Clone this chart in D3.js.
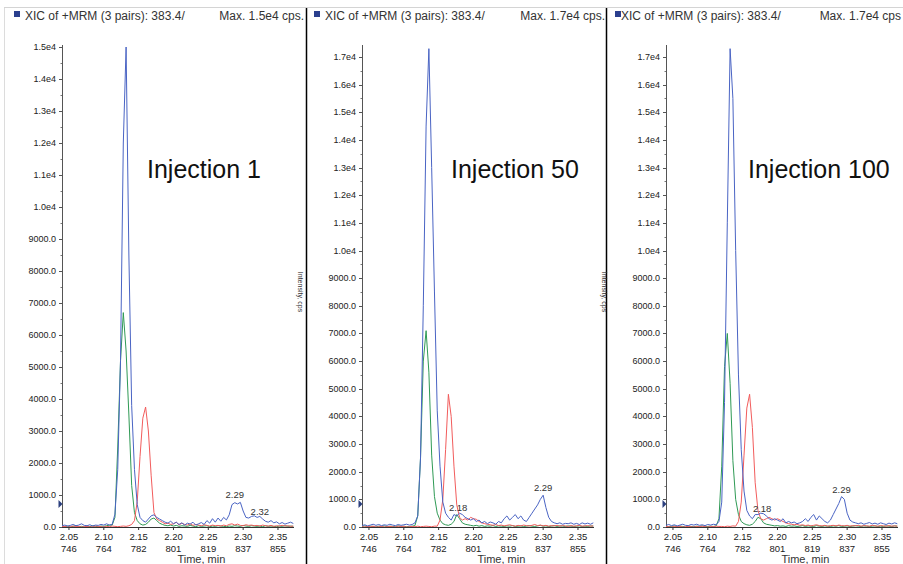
<!DOCTYPE html>
<html>
<head>
<meta charset="utf-8">
<script src="https://cdn.jsdelivr.net/npm/d3@7"></script>
<style>
  body { margin: 0; background: #fff; }
  svg { display: block; font-family: "Liberation Sans", Arial, sans-serif; }
</style>
</head>
<body>
<svg id="chart" width="903" height="564"></svg>
<script>
// DATA

// retention time grid, min (shared by all traces)
const times = [
  2.040, 2.044, 2.048, 2.052, 2.056, 2.060, 2.064, 2.068, 2.072, 2.076,
  2.080, 2.084, 2.088, 2.092, 2.096, 2.100, 2.104, 2.108, 2.112, 2.116,
  2.120, 2.124, 2.128, 2.132, 2.136, 2.140, 2.144, 2.148, 2.152, 2.156,
  2.160, 2.164, 2.168, 2.172, 2.176, 2.180, 2.184, 2.188, 2.192, 2.196,
  2.200, 2.204, 2.208, 2.212, 2.216, 2.220, 2.224, 2.228, 2.232, 2.236,
  2.240, 2.244, 2.248, 2.252, 2.256, 2.260, 2.264, 2.268, 2.272, 2.276,
  2.280, 2.284, 2.288, 2.292, 2.296, 2.300, 2.304, 2.308, 2.312, 2.316,
  2.320, 2.324, 2.328, 2.332, 2.336, 2.340, 2.344, 2.348, 2.352, 2.356,
  2.360, 2.364, 2.368, 2.372
];

// Injection 1 (cps)
const blue1 = [
  40, 60, 30, 50, 80, 40, 60, 100, 50, 40,
  70, 30, 60, 50, 80, 60, 100, 60, 80, 400,
  1800, 5200, 12000, 15000, 8500, 3800, 1800, 700, 300, 200,
  150, 250, 350, 380, 300, 250, 200, 150, 120, 180,
  100, 150, 80, 130, 60, 120, 90, 150, 60, 100,
  140, 80, 200, 120, 260, 150, 280, 180, 300, 220,
  380, 700, 760, 720, 770, 500, 300, 280, 330, 350,
  300, 330, 250, 180, 150, 200, 130, 160, 100, 140,
  90, 120, 150, 110
];
const green1 = [
  20, 10, 30, 0, 20, 40, 10, 20, 0, 30,
  10, 40, 20, 10, 30, 20, 40, 60, 60, 300,
  2500, 5200, 6700, 5500, 3500, 1300, 450, 200, 100, 60,
  80, 150, 250, 280, 200, 120, 80, 50, 40, 60,
  30, 50, 20, 40, 30, 20, 50, 30, 10, 40,
  20, 30, 40, 10, 30, 20, 40, 30, 20, 10,
  30, 20, 40, 30, 20, 50, 30, 20, 40, 30,
  20, 30, 10, 40, 20, 30, 20, 10, 30, 20,
  40, 20, 30, 20
];
const red1 = [
  10, 20, 0, 10, 30, 10, 20, 0, 10, 20,
  0, 10, 30, 20, 10, 0, 20, 10, 30, 20,
  10, 20, 30, 20, 40, 80, 200, 800, 2200, 3400,
  3750, 3000, 1600, 450, 250, 200, 150, 100, 120, 80,
  100, 150, 60, 120, 80, 60, 100, 50, 80, 60,
  40, 70, 50, 30, 60, 40, 50, 30, 60, 40,
  80, 100, 60, 90, 50, 40, 70, 50, 60, 40,
  50, 30, 60, 40, 30, 50, 20, 40, 30, 50,
  30, 40, 20, 30
];

// Injection 50 (cps)
const blue2 = [
  50, 80, 40, 70, 100, 60, 90, 50, 80, 60,
  100, 70, 50, 90, 60, 80, 100, 70, 90, 150,
  400, 2500, 8000, 14500, 17300, 13000, 8500, 4200, 2200, 900,
  500, 350, 250, 450, 400, 500, 450, 350, 300, 250,
  300, 200, 250, 150, 200, 120, 180, 150, 100, 200,
  150, 300, 400, 250, 350, 450, 300, 400, 250, 200,
  350, 500, 650, 800, 1000, 1150, 700, 350, 200, 150,
  120, 150, 100, 130, 120, 150, 100, 130, 90, 150,
  110, 140, 100, 150
];
const green2 = [
  20, 40, 10, 30, 20, 0, 30, 20, 40, 10,
  30, 20, 10, 40, 20, 30, 10, 20, 30, 50,
  400, 2500, 6000, 7100, 5600, 2600, 1100, 500, 250, 120,
  80, 60, 100, 200, 450, 300, 150, 100, 80, 60,
  40, 60, 30, 50, 20, 40, 30, 50, 20, 40,
  30, 20, 40, 30, 50, 20, 30, 40, 20, 30,
  50, 30, 20, 40, 60, 30, 40, 20, 30, 50,
  20, 40, 30, 20, 40, 30, 20, 30, 40, 20,
  30, 20, 40, 30
];
const red2 = [
  10, 0, 20, 10, 30, 0, 10, 20, 0, 10,
  20, 10, 0, 30, 10, 20, 0, 10, 20, 10,
  30, 10, 20, 30, 20, 10, 30, 30, 250, 1000,
  2800, 4800, 4000, 2200, 800, 350, 250, 300, 250, 350,
  300, 280, 200, 150, 120, 100, 80, 60, 90, 50,
  70, 40, 60, 80, 50, 30, 60, 40, 70, 50,
  40, 60, 90, 50, 70, 40, 60, 30, 50, 40,
  60, 30, 50, 40, 20, 50, 30, 40, 60, 30,
  40, 50, 30, 40
];

// Injection 100 (cps)
const blue3 = [
  60, 90, 50, 80, 40, 70, 100, 60, 50, 90,
  70, 100, 60, 80, 50, 90, 70, 100, 80, 200,
  900, 4500, 11000, 17300, 15500, 10000, 5500, 2800, 1300, 600,
  400, 300, 450, 450, 500, 480, 400, 300, 250, 300,
  250, 200, 300, 150, 200, 150, 180, 120, 150, 200,
  300, 200, 350, 450, 250, 400, 300, 200, 150, 250,
  450, 650, 850, 1100, 1000, 500, 250, 180, 150, 120,
  150, 100, 130, 160, 110, 140, 100, 150, 120, 90,
  140, 110, 150, 120
];
const green3 = [
  30, 10, 20, 40, 10, 30, 20, 0, 30, 20,
  10, 30, 20, 40, 10, 20, 30, 20, 40, 300,
  2200, 5800, 7000, 5200, 2400, 1000, 450, 200, 120, 80,
  60, 100, 200, 350, 300, 150, 100, 80, 60, 40,
  50, 30, 40, 20, 50, 30, 40, 20, 30, 50,
  20, 40, 30, 20, 50, 30, 20, 40, 30, 20,
  40, 30, 50, 20, 30, 40, 20, 30, 50, 30,
  20, 40, 30, 20, 30, 40, 20, 30, 20, 40,
  30, 20, 40, 30
];
const red3 = [
  20, 10, 0, 20, 10, 30, 0, 10, 20, 10,
  0, 20, 10, 30, 10, 0, 20, 10, 30, 20,
  20, 10, 30, 20, 40, 30, 200, 900, 2600, 4300,
  4800, 3600, 1600, 600, 300, 250, 300, 350, 300, 250,
  300, 250, 200, 150, 120, 100, 80, 100, 60, 80,
  50, 70, 40, 60, 80, 50, 40, 60, 30, 50,
  60, 40, 70, 50, 40, 60, 30, 50, 40, 60,
  30, 50, 40, 30, 60, 40, 30, 50, 40, 30,
  50, 30, 40, 30
];

// axes
const yTicks1 = [0, 1000, 2000, 3000, 4000, 5000, 6000, 7000, 8000, 9000, 10000, 11000, 12000, 13000, 14000, 15000];
const yTicks2 = [0, 1000, 2000, 3000, 4000, 5000, 6000, 7000, 8000, 9000, 10000, 11000, 12000, 13000, 14000, 15000, 16000, 17000];
const yMax = [15000, 17360, 17360];
const xTicks = [2.05, 2.10, 2.15, 2.20, 2.25, 2.30, 2.35];
const scanLabels = [746, 764, 782, 801, 819, 837, 855];
const xDomain = [2.040, 2.373];

// texts
const headerText = "XIC of +MRM (3 pairs): 383.4/";
const maxLabels = ["Max. 1.5e4 cps.", "Max. 1.7e4 cps.", "Max. 1.7e4 cps"];
const titles = ["Injection 1", "Injection 50", "Injection 100"];
const thresholds = [720, 830, 830];

// peak apex labels: [text, time, cps]
const peakLabels1 = [["2.29", 2.288, 780], ["2.32", 2.324, 260]];
const peakLabels2 = [["2.18", 2.178, 450], ["2.29", 2.300, 1150]];
const peakLabels3 = [["2.18", 2.178, 400], ["2.29", 2.292, 1100]];

// LAYOUT
const plotTop = 47, plotBottom = 527, plotWidth = 232;
const colors = { green: "#2f9a55", red: "#f25c5c", blue: "#4a64c4" };

const panels = [
  { axisX: 62, squareX: 14, textX: 25, maxX: 304, titleX: 147, yTitle: false, traces: { green: green1, red: red1, blue: blue1 }, yTicks: yTicks1, labels: peakLabels1 },
  { axisX: 362, squareX: 314, textX: 325, maxX: 605, titleX: 451, yTitle: true, traces: { green: green2, red: red2, blue: blue2 }, yTicks: yTicks2, labels: peakLabels2 },
  { axisX: 666, squareX: 615, textX: 621, maxX: 901, titleX: 748, yTitle: true, traces: { green: green3, red: red3, blue: blue3 }, yTicks: yTicks2, labels: peakLabels3 }
];

const svg = d3.select("#chart");

// frame lines
svg.append("line").attr("x1", 4).attr("x2", 903).attr("y1", 7.5).attr("y2", 7.5)
  .attr("stroke", "#d4d4d4");
svg.append("line").attr("x1", 4.5).attr("x2", 4.5).attr("y1", 8).attr("y2", 564)
  .attr("stroke", "#dcdcdc");
[306.5, 606.5].forEach(x => {
  svg.append("line").attr("x1", x).attr("x2", x).attr("y1", 8).attr("y2", 564)
    .attr("stroke", "#000").attr("stroke-width", 1.5);
});

const fmtY = v => v >= 10000 ? (v / 10000).toFixed(1) + "e4" : v.toFixed(1);

panels.forEach((p, k) => {
  const g = svg.append("g");

  const xScale = d3.scaleLinear().domain(xDomain).range([p.axisX, p.axisX + plotWidth]);
  const yScale = d3.scaleLinear().domain([0, yMax[k]]).range([plotBottom, plotTop]);

  // header
  g.append("rect").attr("x", p.squareX).attr("y", 11).attr("width", 6).attr("height", 6)
    .attr("fill", "#2b3f8e");
  g.append("text").attr("x", p.textX).attr("y", 20).attr("font-size", 12)
    .attr("fill", "#333").text(headerText);
  g.append("text").attr("x", p.maxX).attr("y", 20).attr("font-size", 12)
    .attr("text-anchor", "end").attr("fill", "#333").text(maxLabels[k]);

  // y axis
  const yMinor = d3.range(500, yMax[k], 1000);
  g.append("line").attr("x1", p.axisX + 0.5).attr("x2", p.axisX + 0.5)
    .attr("y1", plotTop - 2).attr("y2", plotBottom).attr("stroke", "#555");
  g.selectAll(".ymaj").data(p.yTicks).join("line")
    .attr("x1", p.axisX - 3).attr("x2", p.axisX)
    .attr("y1", d => Math.round(yScale(d)) + 0.5).attr("y2", d => Math.round(yScale(d)) + 0.5)
    .attr("stroke", "#555");
  g.selectAll(".ymin").data(yMinor).join("line")
    .attr("x1", p.axisX - 1.5).attr("x2", p.axisX)
    .attr("y1", d => Math.round(yScale(d)) + 0.5).attr("y2", d => Math.round(yScale(d)) + 0.5)
    .attr("stroke", "#777");
  g.selectAll(".ylab").data(p.yTicks).join("text")
    .attr("x", p.axisX - 6).attr("y", d => yScale(d) + 3)
    .attr("text-anchor", "end").attr("font-size", 9).attr("fill", "#222")
    .text(fmtY);

  // threshold marker
  const ty = yScale(thresholds[k]);
  g.append("path")
    .attr("d", `M${p.axisX - 3.5},${ty - 4} L${p.axisX + 0.5},${ty} L${p.axisX - 3.5},${ty + 4} Z`)
    .attr("fill", "#2b3f7e");

  // y title (only visible next to the dividers)
  if (p.yTitle) {
    g.append("text")
      .attr("transform", `translate(${p.axisX - 64},292) rotate(90)`)
      .attr("text-anchor", "middle").attr("font-size", 7).attr("fill", "#333")
      .text("Intensity, cps");
  }

  // traces
  const line = d3.line().x((d, i) => xScale(times[i])).y(d => yScale(d));
  ["green", "red", "blue"].forEach(c => {
    g.append("path").datum(p.traces[c])
      .attr("d", line).attr("fill", "none")
      .attr("stroke", colors[c]).attr("stroke-width", 1);
  });

  // x axis
  g.append("line").attr("x1", p.axisX).attr("x2", p.axisX + plotWidth)
    .attr("y1", plotBottom + 0.5).attr("y2", plotBottom + 0.5).attr("stroke", "#333");
  g.selectAll(".xt").data(xTicks).join("line")
    .attr("x1", d => xScale(d)).attr("x2", d => xScale(d))
    .attr("y1", plotBottom).attr("y2", plotBottom + 3).attr("stroke", "#333");
  g.selectAll(".xl").data(xTicks).join("text")
    .attr("x", d => xScale(d)).attr("y", plotBottom + 13)
    .attr("text-anchor", "middle").attr("font-size", 9.5).attr("fill", "#222")
    .text(d => d.toFixed(2));
  g.selectAll(".xs").data(scanLabels).join("text")
    .attr("x", (d, i) => xScale(xTicks[i])).attr("y", plotBottom + 25)
    .attr("text-anchor", "middle").attr("font-size", 9.5).attr("fill", "#222")
    .text(d => d);
  g.append("text").attr("x", xScale(2.24)).attr("y", 563)
    .attr("text-anchor", "middle").attr("font-size", 11).attr("fill", "#333")
    .text("Time, min");

  // peak labels
  g.selectAll(".pl").data(p.labels).join("text")
    .attr("x", d => xScale(d[1])).attr("y", d => yScale(d[2]) - 4)
    .attr("text-anchor", "middle").attr("font-size", 9.5).attr("fill", "#333")
    .text(d => d[0]);

  // sample title
  g.append("text").attr("x", p.titleX).attr("y", 178)
    .attr("font-size", 25).attr("fill", "#111")
    .text(titles[k]);
});
</script>
</body>
</html>
